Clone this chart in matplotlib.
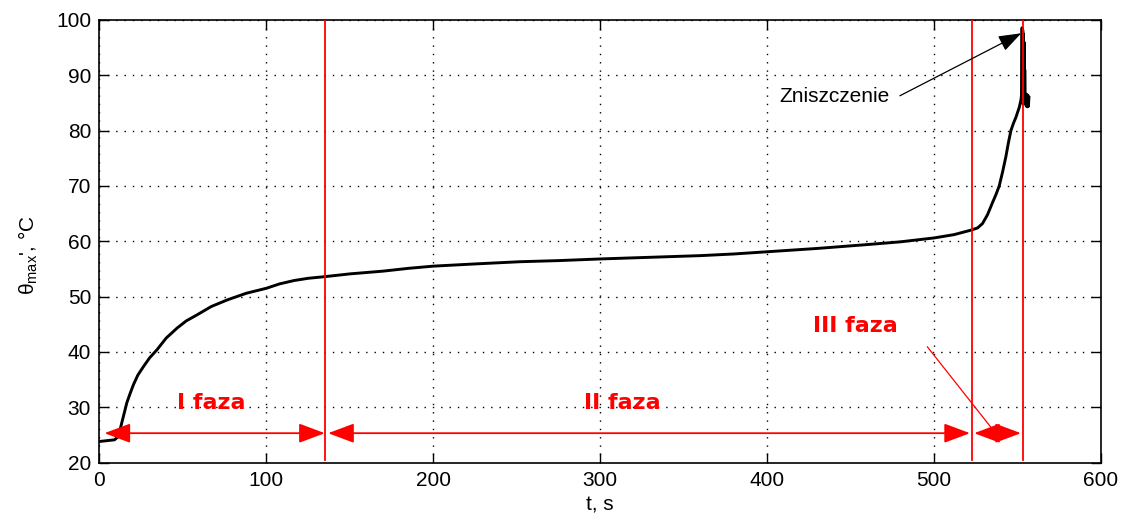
import matplotlib
matplotlib.use("Agg")
import matplotlib.pyplot as plt

plt.rcParams['font.family'] = ['Liberation Sans', 'DejaVu Sans']

# ---- data ----
t_s = [0, 3, 6, 9, 11, 12.4, 13.4, 14.4, 15.4, 16.4, 18.4, 20.4, 23, 26.5,
       30, 34.5, 40, 46.5, 52, 58.5, 67, 76.6, 88, 100, 108, 116.6, 125, 135,
       150, 170, 185, 200, 225, 252, 275, 300, 330, 360, 380, 400, 430, 460,
       480, 500, 512, 522, 526, 529, 532, 535, 537, 539, 541, 543, 544.5, 546,
       547.5, 549, 550, 551, 552, 552.4, 552.7, 552.9, 553.1, 553.3, 553.5,
       553.7, 553.9, 554.1, 554.3, 554.6, 555.0, 555.3, 555.6, 555.9, 556.2,
       556.5, 556.8]
theta_max = [23.8, 23.9, 24.0, 24.1, 24.6, 26.0, 27.2, 28.4, 29.6, 30.8, 32.5,
             34.1, 35.8, 37.4, 38.9, 40.4, 42.5, 44.3, 45.6, 46.7, 48.2, 49.4,
             50.6, 51.5, 52.3, 52.9, 53.3, 53.6, 54.1, 54.6, 55.1, 55.5, 55.9,
             56.3, 56.5, 56.8, 57.1, 57.4, 57.7, 58.1, 58.7, 59.4, 59.9, 60.6,
             61.2, 62.0, 62.4, 63.2, 64.8, 67.0, 68.4, 70.0, 72.5, 75.3, 77.8,
             80.0, 81.3, 82.4, 83.3, 84.2, 85.5, 86.5, 98.6, 85.5, 98.2, 84.8,
             97.5, 85.0, 96.0, 84.8, 91.0, 85.2, 86.6, 84.4, 86.5, 84.3, 86.4,
             84.4, 86.0]

phase_bounds = [135, 522.5, 553]          # vertical red lines
arrow_spans = [(3, 135), (137, 521.5), (524, 552)]
arrow_y = 25.3
phase_labels = ["I faza", "II faza", "III faza"]
phase_label_pos = [(67, 30.8), (313, 30.8), (453, 44.7)]
xticks = [0, 100, 200, 300, 400, 500, 600]
yticks = [20, 30, 40, 50, 60, 70, 80, 90, 100]

fig = plt.figure(figsize=(11.25, 5.29), dpi=100)
ax = fig.add_axes([0.0884, 0.1257, 0.8903, 0.8365])

ax.plot(t_s, theta_max, color='black', lw=2.1, zorder=3)

ax.set_xlim(0, 600)
ax.set_ylim(20, 100)
ax.set_xticks(xticks)
ax.set_yticks(yticks)
ax.tick_params(direction='in', length=7, width=1, top=True, right=True,
               labelsize=15, colors='black', pad=6)
ax.grid(True, color='black', linestyle=(0, (1, 5)), linewidth=1)
for sp in ax.spines.values():
    sp.set_linewidth(1.2)

# red vertical phase boundaries
for xb in phase_bounds:
    ax.plot([xb, xb], [20.4, 100], color='red', lw=1.3, zorder=4)

# double arrows
for (a, b) in arrow_spans:
    ax.annotate('', xy=(b, arrow_y), xytext=(a, arrow_y),
                arrowprops=dict(arrowstyle='<|-|>,head_length=1.6,head_width=0.6',
                                color='red', lw=1.3, shrinkA=0, shrinkB=0,
                                mutation_scale=10), zorder=5)

for lab, (x, y) in zip(phase_labels, phase_label_pos):
    ax.text(x, y, lab, color='red', fontsize=16, fontweight='bold',
            family='DejaVu Sans', ha='center', va='center', zorder=6)

# pointer line from III faza
ax.plot([496, 535], [40.9, 26.0], color='red', lw=0.9, zorder=5)

# Zniszczenie annotation
ax.text(407.5, 86.1, 'Zniszczenie', fontsize=15, ha='left', va='center',
        zorder=6)
ax.annotate('', xy=(552.2, 97.6), xytext=(479.5, 86.3),
            arrowprops=dict(arrowstyle='-|>,head_length=1.4,head_width=0.5',
                            color='black', lw=0.9, shrinkA=0, shrinkB=0,
                            mutation_scale=10), zorder=6)

ax.set_xlabel('t, s', fontsize=15, labelpad=4)
fig.text(28 / 1125, 1 - 255 / 529, r"$\mathregular{\theta_{max}}$', °C",
         rotation=90, fontsize=15, ha='center', va='center')

fig.savefig('out.png', dpi=100)
